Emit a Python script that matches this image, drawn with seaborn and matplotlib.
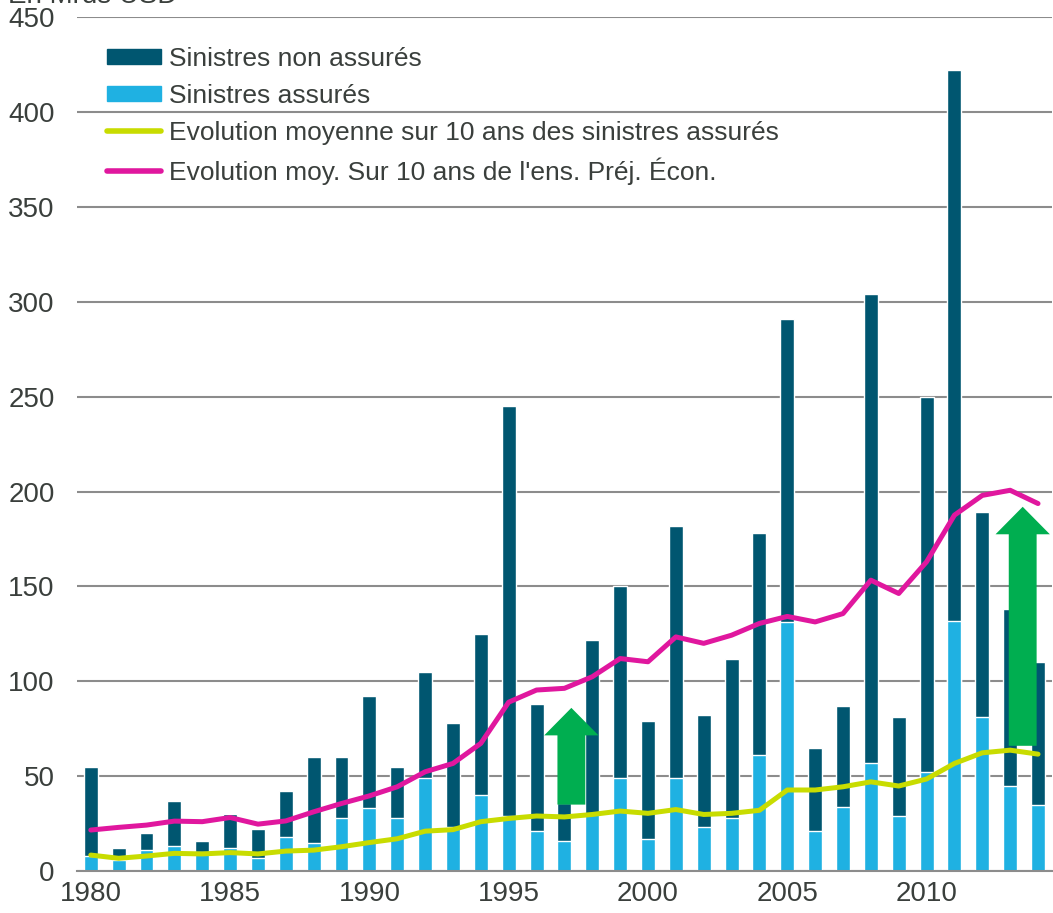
import numpy as np
import pandas as pd
import matplotlib
matplotlib.use("Agg")
import matplotlib.pyplot as plt
import seaborn as sns
from matplotlib.patches import Patch, FancyArrow
from matplotlib.lines import Line2D
from matplotlib.ticker import FixedLocator

# Data (Mrds USD)
years = list(range(1980, 2015))
total_losses = [55, 12, 20, 37, 16, 30, 22, 42, 60, 60,
                92, 55, 105, 78, 125, 245, 88, 36, 122, 150,
                79, 182, 82, 112, 178, 291, 65, 87, 304, 81,
                250, 422, 189, 138, 110]
insured_losses = [8, 6, 11, 13, 10, 12, 7, 18, 15, 28,
                  33, 28, 49, 23, 40, 29, 21, 16, 30, 49,
                  17, 49, 23, 28, 61, 131, 21, 34, 57, 29,
                  52, 132, 81, 45, 35]
avg_insured = [8.4, 6.7, 7.9, 9.3, 9.0, 9.7, 9.0, 10.5, 11.0, 12.8,
               15.0, 17.0, 21.0, 21.8, 26.0, 27.7, 29.0, 28.5, 29.8, 31.6,
               30.4, 32.4, 29.8, 30.4, 32.0, 42.7, 42.7, 44.4, 47.0, 44.8,
               48.5, 56.7, 62.3, 63.7, 61.6]
avg_total = [21.6, 23.0, 24.2, 26.3, 26.0, 28.2, 24.7, 26.4, 31.2, 35.6,
             39.6, 44.4, 52.3, 56.7, 67.3, 89.0, 95.4, 96.3, 102.4, 112.0,
             110.3, 123.4, 120.0, 124.3, 130.5, 134.2, 131.3, 135.7, 153.3, 146.3,
             163.0, 187.6, 198.0, 200.7, 193.7]
# arrows: (x index, start value, end value)
arrows = [(17.25, 35, 86), (33.45, 66, 192)]

labels = ["Sinistres non assurés", "Sinistres assurés",
          "Evolution moyenne sur 10 ans des sinistres assurés",
          "Evolution moy. Sur 10 ans de l'ens. Préj. Écon."]

dark = "#005670"
light = "#1FB1E2"
lime = "#C8DC00"
pink = "#E0179E"
arrow_green = "#00AE50"
txt = "#3a3f3c"

df = pd.DataFrame({"year": years, "idx": range(len(years)), "total": total_losses,
                   "insured": insured_losses, "avg_ins": avg_insured, "avg_tot": avg_total})

sns.set_style("white")
plt.rcParams["font.family"] = ["Liberation Sans", "DejaVu Sans"]

fig = plt.figure(figsize=(10.53, 9.13), dpi=100)
ax = fig.add_axes([0.073, 0.046, 0.926, 0.935])

sns.barplot(data=df, x="idx", y="total", color=dark, width=0.5, saturation=1,
            ax=ax, native_scale=True)
sns.barplot(data=df, x="idx", y="insured", color=light, width=0.5, saturation=1,
            ax=ax, native_scale=True)
sns.lineplot(data=df, x="idx", y="avg_ins", color=lime, linewidth=3.6, ax=ax)
sns.lineplot(data=df, x="idx", y="avg_tot", color=pink, linewidth=3.6, ax=ax)

for xa, y0, y1 in arrows:
    ax.add_patch(FancyArrow(xa, y0, 0, y1 - y0, width=1.0, head_width=1.95,
                            head_length=14.5, length_includes_head=True,
                            color=arrow_green, zorder=5, linewidth=0))

ax.set_xlim(-0.5, len(years) - 0.5)
ax.set_ylim(0, 450)
ax.set_yticks(range(0, 451, 50))
ax.yaxis.grid(True, color="#8c8c8c", linewidth=1.5)
ax.set_axisbelow(True)
for s in ["left", "right", "top"]:
    ax.spines[s].set_visible(False)
ax.spines["bottom"].set_color("#8c8c8c")
ax.spines["bottom"].set_linewidth(1.5)

major = [i for i, y in enumerate(years) if y % 5 == 0]
ax.set_xticks(major)
ax.set_xticklabels([str(years[i]) for i in major])
ax.xaxis.set_minor_locator(FixedLocator(np.arange(-0.5, len(years), 1.0)))
ax.tick_params(axis="x", which="major", length=0, pad=7, labelsize=20, labelcolor=txt)
ax.tick_params(axis="x", which="minor", length=8, width=1.5, color="#8c8c8c", direction="out")
ax.tick_params(axis="y", length=0, pad=16, labelsize=20, labelcolor=txt)
ax.set_xlabel("")
ax.set_ylabel("")

handles = [Patch(color=dark), Patch(color=light),
           Line2D([], [], color=lime, linewidth=4),
           Line2D([], [], color=pink, linewidth=4)]
ax.legend(handles, labels, loc="upper left", bbox_to_anchor=(0.031, 0.965),
          frameon=False, fontsize=19, handlelength=2.05, handleheight=0.5,
          handletextpad=0.3, labelspacing=0.48, labelcolor=txt,
          borderpad=0, borderaxespad=0)

fig.text(0.008, 1 - 3 / 913, "En Mrds USD", fontsize=20, color=txt,
         va="baseline", ha="left")

fig.savefig("out.png", dpi=100)
